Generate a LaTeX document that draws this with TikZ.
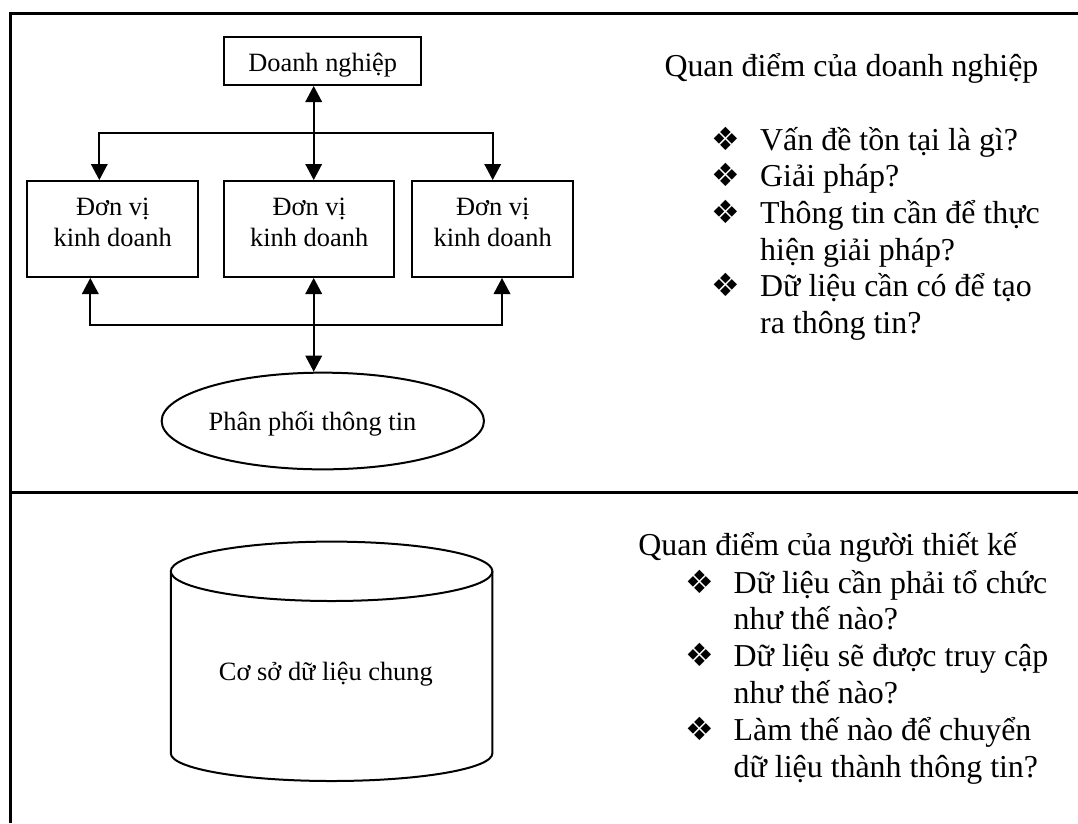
\documentclass[tikz,border=0pt]{standalone}
\usepackage{fontspec}
\setmainfont{Liberation Serif}
\newfontfamily\symfont{DejaVu Sans}
\usetikzlibrary{arrows.meta,shapes.geometric}

% two-line label of a business unit, first baseline on top
\newcommand\unitlabel{\begin{tabular}[t]{@{}c@{}}Đơn vị\\kinh doanh\end{tabular}}

\begin{document}
\begin{tikzpicture}[x=1pt,y=-1pt,
  frame/.style={line width=3pt},
  boxnode/.style={draw,line width=2pt,inner sep=0pt,font=\fontsize{26.4}{31.7}\selectfont},
  unitbox/.style={boxnode,minimum height=96pt,text height=20pt,text depth=48pt},
  link/.style={line width=2pt,
    {Triangle[width=17pt,length=16pt,line width=0pt]}-{Triangle[width=17pt,length=16pt,line width=0pt]}},
  smalltext/.style={inner sep=0pt,anchor=base,font=\fontsize{26.4}{31.7}\selectfont},
  bigtext/.style={inner sep=0pt,anchor=base west,font=\fontsize{31.9}{36.7}\selectfont},
  bul/.style={inner sep=0pt,anchor=base,font=\symfont\fontsize{32}{32}\selectfont}
]
\useasboundingbox (0,0) rectangle (1078,823);

% outer frame and divider
\draw[frame] (1078,13.3) -- (10,13.3) -- (10,823);
\draw[frame] (10,492.7) -- (1078,492.7);

% organisation chart
\node[boxnode,minimum width=197pt,minimum height=48pt,text height=21.4pt,text depth=0pt] (dn) at (322.7,61) {Doanh nghiệp};
\node[unitbox,minimum width=170.7pt] (u1) at (112.7,229) {\unitlabel};
\node[unitbox,minimum width=170.3pt] (u2) at (309.2,229) {\unitlabel};
\node[unitbox,minimum width=161.3pt] (u3) at (492.7,229) {\unitlabel};
\node[draw,ellipse,line width=2pt,inner sep=0pt,minimum width=322.3pt,minimum height=96.7pt] (info) at (322.8,421) {};
\node[smalltext] (infotext) at (312.5,430) {Phân phối thông tin};

\coordinate (cx) at (313.7,0);
\coordinate (busL) at (99.3,133.3);
\coordinate (busR) at (492.7,133.3);
\coordinate (lowL) at (90.3,325);
\coordinate (lowR) at (502,325);

\draw[link] (dn.south -| cx) -- (u2.north -| cx);
\draw[link] (u1.north -| busL) -- (busL) -- (busR) -- (u3.north -| busR);
\draw[link] (u1.south -| lowL) -- (lowL) -- (lowR) -- (u3.south -| lowR);
\draw[link] (u2.south -| cx) -- (info.north -| cx);

% shared database cylinder
\draw[line width=2pt] (331.6,571.3) ellipse[x radius=160.8pt,y radius=29.7pt];
\draw[line width=2pt] (170.8,571.3) -- (170.8,753.3) arc[start angle=180,end angle=360,x radius=160.8pt,y radius=27.7pt] -- (492.4,571.3);
\node[smalltext] (dbtext) at (325.9,680) {Cơ sở dữ liệu chung};

% business view
\node[bigtext] (bv) at (664.3,76) {Quan điểm của doanh nghiệp};
\node[bul] (bb1) at (726,150) {❖};
\node[bul] (bb2) at (726,186.7) {❖};
\node[bul] (bb3) at (726,223.4) {❖};
\node[bul] (bb4) at (726,296.8) {❖};
\node[bigtext] (bl1) at (760,150) {Vấn đề tồn tại là gì?};
\node[bigtext] (bl2) at (760,186.7) {Giải pháp?};
\node[bigtext] (bl3) at (760,223.4) {Thông tin cần để thực};
\node[bigtext] (bl4) at (760,260.1) {hiện giải pháp?};
\node[bigtext] (bl5) at (760,296.8) {Dữ liệu cần có để tạo};
\node[bigtext] (bl6) at (760,333.5) {ra thông tin?};

% designer view
\node[bigtext] (dv) at (638.1,555) {Quan điểm của người thiết kế};
\node[bul] (db1) at (699.7,593) {❖};
\node[bul] (db2) at (699.7,666.6) {❖};
\node[bul] (db3) at (699.7,740.2) {❖};
\node[bigtext] (dl1) at (733.5,593) {Dữ liệu cần phải tổ chức};
\node[bigtext] (dl2) at (733.5,629.8) {như thế nào?};
\node[bigtext] (dl3) at (733.5,666.6) {Dữ liệu sẽ được truy cập};
\node[bigtext] (dl4) at (733.5,703.4) {như thế nào?};
\node[bigtext] (dl5) at (733.5,740.2) {Làm thế nào để chuyển};
\node[bigtext] (dl6) at (733.5,777) {dữ liệu thành thông tin?};
\end{tikzpicture}
\end{document}
